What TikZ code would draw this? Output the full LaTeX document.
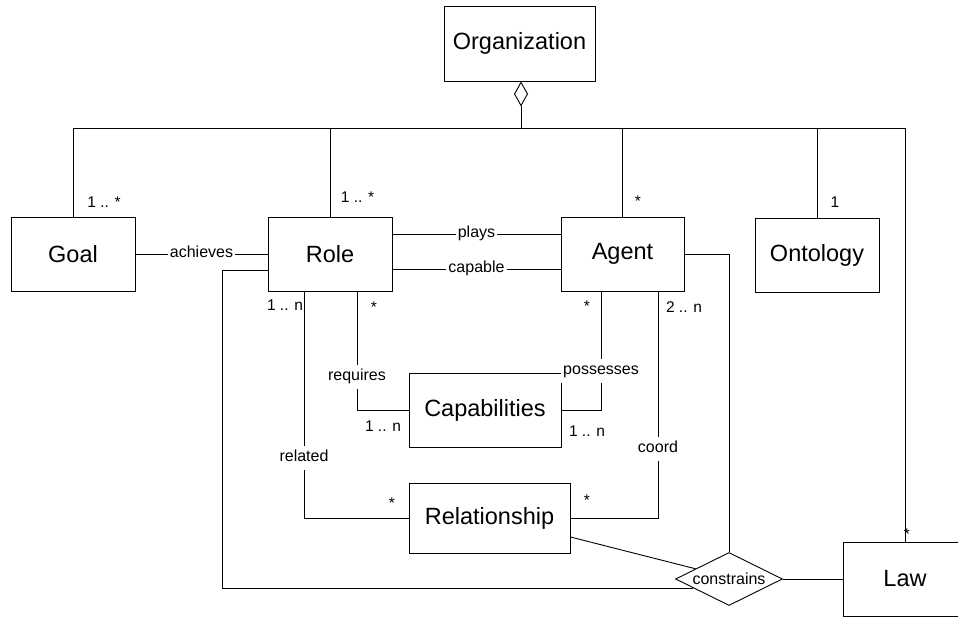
\documentclass[tikz,border=0pt]{standalone}
\usepackage{fontspec}
\setmainfont{Liberation Sans}
\usetikzlibrary{shapes.geometric,arrows.meta}
\begin{document}
\begin{tikzpicture}[x=1pt,y=-1pt,line width=0.9pt,
  box/.style={draw, rectangle, minimum width=124pt, minimum height=75pt, inner sep=0pt,
    font=\fontsize{23.5}{28}\selectfont},
  lab/.style={fill=white, inner xsep=2pt, inner ysep=4.5pt, text height=11pt, text depth=3.5pt,
    font=\fontsize{16}{19}\selectfont},
  mult/.style={anchor=base, inner sep=0pt, font=\fontsize{15.5}{18}\selectfont},
  rel/.style={draw, diamond, aspect=2, minimum width=107pt, minimum height=53pt, inner sep=0pt,
    fill=white, font=\fontsize{16}{19}\selectfont}]
\clip (0,0) rectangle (958,617);
\fill[white] (0,0) rectangle (958,617);

% classes
\node[box, minimum width=151pt] (org) at (519.5,43.5) {Organization};
\node[box, minimum height=74pt] (goal) at (73,254) {Goal};
\node[box, minimum height=74pt] (role) at (330,254) {Role};
\node[box, minimum width=123pt, minimum height=74pt] (agent) at (622.5,254) {Agent};
\node[box, minimum height=74pt] (onto) at (817,255) {Ontology};
\node[box, minimum width=152pt, minimum height=74pt] (caps) at (485,410) {Capabilities};
\node[box, minimum width=161pt, minimum height=70pt] (relsh) at (489.5,518) {Relationship};
\node[box, minimum height=74pt] (law) at (905,579) {Law};
\node[rel] (cons) at (729,579) {constrains};

% aggregation bus
\coordinate (busL) at (73,128);
\coordinate (busR) at (905,128);
\coordinate (busO) at (521,128);
\draw (goal.north) -- (busL) -- (busR) -- (law.north);
\draw[{Diamond[open,length=25pt,width=14pt]}-] ([xshift=1.5pt]org.south) -- (busO);
\draw (role.north) -- (role.north |- busL);
\draw (agent.north) -- (agent.north |- busL);
\draw (onto.north) -- (onto.north |- busL);

% associations
\draw (goal.east) -- node[lab]{achieves} (role.west);
\draw ([yshift=20pt]role.east) -- node[lab]{plays} ([yshift=20pt]agent.west);
\draw ([yshift=-15pt]role.east) -- node[lab]{capable} ([yshift=-15pt]agent.west);
\draw ([xshift=-26pt]role.south) |- node[lab,pos=0.368]{related} (relsh.west);
\draw ([xshift=27pt]role.south) |- node[lab,pos=0.361]{requires} (caps.west);
\draw ([xshift=-21.5pt]agent.south) |- node[lab,pos=0.336]{possesses} (caps.east);
\draw ([xshift=35.5pt]agent.south) |- node[lab,pos=0.348]{coord} (relsh.east);

% constrains
\draw ([yshift=-16pt]role.west) -- ++(-45,0) |- (cons.194);
\draw (agent.east) -| (cons.north);
\draw ([yshift=-19pt]relsh.east) -- (cons.163);
\draw (cons.east) -- (law.west);

% multiplicities
\node[mult] (m1) at (104,208) {1 .. *};
\node[mult] (m2) at (357.5,203) {1 .. *};
\node[mult] (m3) at (638,207) {*};
\node[mult] (m4) at (835,208) {1};
\node[mult] (m5) at (285,310.5) {1 .. n};
\node[mult] (m6) at (374,313) {*};
\node[mult] (m7) at (587,312) {*};
\node[mult] (m8) at (684,313) {2 .. n};
\node[mult] (m9) at (383,431.5) {1 .. n};
\node[mult] (m10) at (587,436.5) {1 .. n};
\node[mult] (m11) at (392,508) {*};
\node[mult] (m12) at (587,505) {*};
\node[mult] (m13) at (907,539) {*};
\end{tikzpicture}
\end{document}
